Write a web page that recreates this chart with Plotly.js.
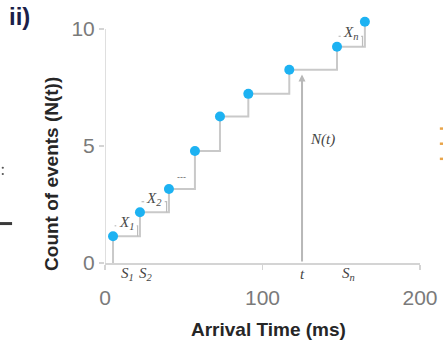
<!DOCTYPE html>
<html><head><meta charset="utf-8">
<script src="https://cdn.plot.ly/plotly-3.0.1.min.js"></script>
<style>html,body{margin:0;padding:0;background:#fff;}#chart{width:443px;height:347px;}</style>
</head><body><div id="chart"></div>
<script>
// Arrival times S_i (ms) and the event count N reached at each arrival
const arrivalTimes = [5.1, 22.2, 40.6, 57.1, 73.0, 91.0, 117.0, 147.3, 165.0];
const eventCounts = [1.14, 2.17, 3.16, 4.79, 6.26, 7.23, 8.26, 9.24, 10.31];
const xTickVals = [0, 100, 200];
const yTickVals = [0, 5, 10];
// Inter-arrival gaps that get a bracket: index of the arrival that opens the gap
const gapStart = [0, 1, 7];
const gapLabels = ['X<sub>1</sub>', 'X<sub>2</sub>', 'X<sub>n</sub>'];
const observationTime = 125.1;

const lineGray = '#c9c9c9';
const axisGray = '#d4d4d4';
const serif = 'Liberation Serif, DejaVu Serif, serif';
const sans = 'Arial, Liberation Sans, sans-serif';

// Counting process as a staircase rising from the axis at the first arrival
const stepTrace = {
  x: [arrivalTimes[0]].concat(arrivalTimes),
  y: [0].concat(eventCounts),
  mode: 'lines', line: {shape: 'hv', color: lineGray, width: 2},
  hoverinfo: 'skip', showlegend: false
};
const pointTrace = {
  x: arrivalTimes, y: eventCounts, mode: 'markers',
  marker: {color: '#1db2f2', size: 10}, showlegend: false
};

// The count axis line stops at the top tick (10); the range leaves room above it
const shapes = [{type: 'line', xref: 'x', yref: 'y', x0: 0, x1: 0, y0: 0, y1: yTickVals[yTickVals.length - 1],
  line: {color: axisGray, width: 1.5}, layer: 'below'}];
const annotations = [];

// Brackets marking the inter-arrival times X_i
gapStart.forEach((k, j) => {
  const x0 = arrivalTimes[k], x1 = arrivalTimes[k + 1];
  const base = eventCounts[k], lvl = base + 0.45;
  const mid = (x0 + x1) / 2, half = 6.5;
  const bracket = {type: 'path', xref: 'x', yref: 'y', line: {color: '#bdbdbd', width: 1.2}};
  shapes.push(Object.assign({}, bracket, {path: `M ${x0 + 1},${lvl} L ${mid - half},${lvl}`}));
  shapes.push(Object.assign({}, bracket, {path: `M ${mid + half},${lvl} L ${x1 - 1.5},${lvl} L ${x1 - 1.5},${base}`}));
  annotations.push({x: mid, y: lvl + 0.12, xref: 'x', yref: 'y', text: gapLabels[j], showarrow: false,
    font: {family: serif, size: 15, color: '#4a4a4a', style: 'italic'}});
});

// Ellipsis between the second bracket and the later steps
annotations.push({x: 48.3, y: 3.68, xref: 'x', yref: 'y', text: '---', showarrow: false,
  font: {family: sans, size: 9, color: '#666'}});

// Arrow from t up to the current level of the staircase
let level = 0;
arrivalTimes.forEach((s, i) => { if (s <= observationTime) level = eventCounts[i]; });
annotations.push({x: observationTime, y: level - 0.2, ax: observationTime, ay: 0, axref: 'x', ayref: 'y',
  xref: 'x', yref: 'y', text: '', showarrow: true, arrowhead: 2, arrowsize: 0.7, arrowwidth: 2,
  arrowcolor: '#b8b8b8'});
annotations.push({x: observationTime + 4, y: 5.27, xref: 'x', yref: 'y', xanchor: 'left', text: 'N(t)',
  showarrow: false, font: {family: serif, size: 15, color: '#444', style: 'italic'}});

// Labels just under the time axis
const axisMarks = [[14.6, 'S<sub>1</sub>'], [26.0, 'S<sub>2</sub>'], [observationTime, 't'], [154.9, 'S<sub>n</sub>']];
axisMarks.forEach(([x, txt]) => annotations.push({x: x, y: -0.044, xref: 'x', yref: 'paper', yanchor: 'middle',
  text: txt, showarrow: false, font: {family: serif, size: 15, color: '#444', style: 'italic'}}));

// Axis titles and panel tag
const titleFont = {family: sans, size: 19, color: '#262626', weight: 'bold'};
annotations.push({xref: 'paper', yref: 'paper', x: 0.519, y: -0.27, xanchor: 'center', yanchor: 'middle',
  text: 'Arrival Time (ms)', showarrow: false, font: titleFont});
annotations.push({xref: 'paper', yref: 'paper', x: -0.17, y: 0.361, xanchor: 'center', yanchor: 'middle',
  textangle: -90, text: 'Count of events (N(t))', showarrow: false, font: titleFont});
annotations.push({xref: 'paper', yref: 'paper', x: -0.27, y: 0.992, xanchor: 'center', yanchor: 'middle',
  text: 'ii)', showarrow: false, font: {family: sans, size: 24, color: '#1c1f4a', weight: 'bold'}});

// Edges of the neighbouring panels that show at the borders
shapes.push({type: 'line', xref: 'paper', yref: 'paper', x0: -0.335, x1: -0.295, y0: 0.159, y1: 0.159,
  line: {color: '#3a3a3a', width: 3}});
[0.38, 0.355].forEach(y => shapes.push({type: 'circle', xref: 'paper', yref: 'paper',
  x0: -0.328, x1: -0.321, y0: y, y1: y + 0.008, fillcolor: '#555', line: {width: 0}}));
[0.537, 0.476, 0.415].forEach(y => shapes.push({type: 'rect', xref: 'paper', yref: 'paper',
  x0: 1.063, x1: 1.08, y0: y, y1: y + 0.01, fillcolor: '#e9a54a', line: {width: 0}}));

const axisCommon = {
  showgrid: false, zeroline: false,
  ticks: 'outside', ticklen: 5, tickcolor: axisGray, tickwidth: 1.5,
  tickfont: {family: sans, size: 21, color: '#7a7a7a'}
};

const layout = {
  width: 443, height: 347,
  margin: {l: 105, r: 23, t: 15, b: 84},
  paper_bgcolor: '#fff', plot_bgcolor: '#fff',
  xaxis: Object.assign({}, axisCommon, {range: [0, 200], tickvals: xTickVals, ticklabelstandoff: 10,
    showline: true, linecolor: axisGray, linewidth: 1.5}),
  yaxis: Object.assign({}, axisCommon, {range: [0, 10.6], tickvals: yTickVals, showline: false}),
  shapes: shapes, annotations: annotations
};

Plotly.newPlot('chart', [stepTrace, pointTrace], layout, {displayModeBar: false, staticPlot: true});
</script>
</body></html>
